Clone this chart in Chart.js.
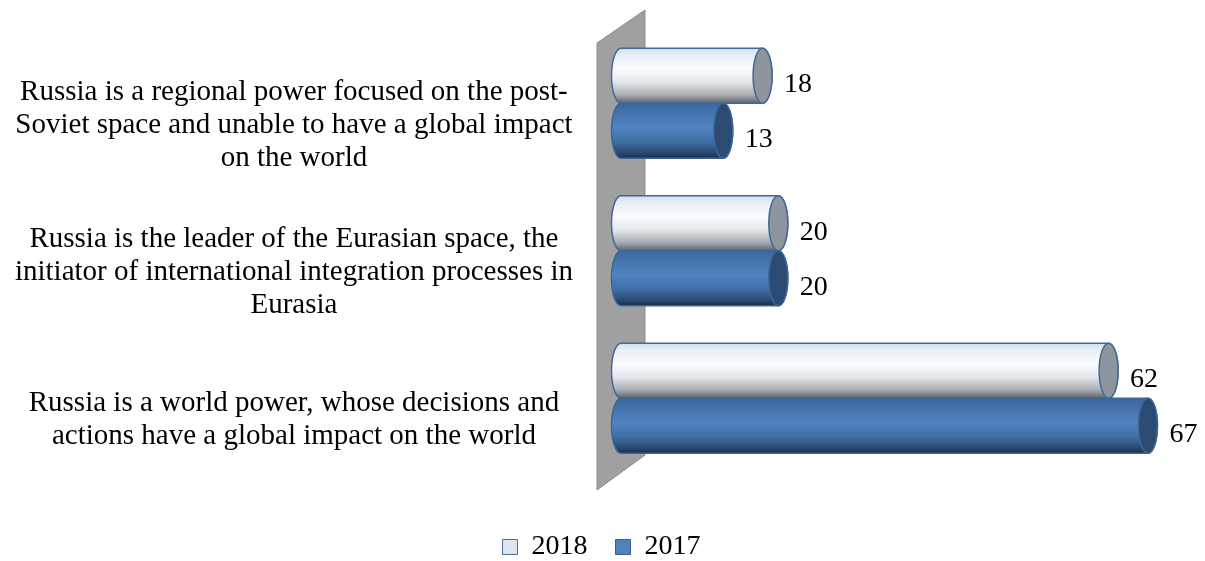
<!DOCTYPE html>
<html>
<head>
<meta charset="utf-8">
<script src="https://cdn.jsdelivr.net/npm/chart.js@4.4.0/dist/chart.umd.min.js"></script>
<style>
  html, body { margin: 0; padding: 0; background: #fff; }
  #wrap { width: 1205px; height: 561px; }
</style>
</head>
<body>
<div id="wrap"><canvas id="opinionChart"></canvas></div>
<script>
const FONT = '"Liberation Serif", "Times New Roman", serif';

const CATEGORIES = [
    ["Russia is a regional power focused on the post-", "Soviet space and unable to have a global impact", "on the world"],
    ["Russia is the leader of the Eurasian space, the", "initiator of international integration processes in", "Eurasia"],
    ["Russia is a world power, whose decisions and", "actions have a global impact on the world"]
];
const SERIES_NAMES = ["2018", "2017"];
const VALUES_2018 = [18, 20, 62];
const VALUES_2017 = [13, 20, 67];

// look of each cylinder: body gradient stops, end cap, outline
const CYLINDER_STYLE = [
    {
        stops: [[0, '#d3dce8'], [0.12, '#e8eef6'], [0.38, '#fbfcfe'], [0.62, '#e2e6eb'], [0.85, '#a9adb3'], [1, '#5e6166']],
        cap: '#8e959e',
        line: '#41699b'
    },
    {
        stops: [[0, '#3a679d'], [0.2, '#4675ae'], [0.45, '#5083c0'], [0.7, '#416fa6'], [0.9, '#2a4a72'], [1, '#1a2c44']],
        cap: '#2c4b73',
        line: '#3b6698'
    }
];

const CAP_RX = 9.5;

// grey back wall standing behind the bars at the zero line
const wallPlugin = {
    id: 'wall',
    beforeDatasetsDraw(chart) {
        const {ctx, chartArea} = chart;
        const x0 = chart.scales.x.getPixelForValue(0);
        ctx.save();
        ctx.beginPath();
        ctx.moveTo(x0 - 24, chartArea.top + 13.5);
        ctx.lineTo(x0 + 24, chartArea.top - 19.5);
        ctx.lineTo(x0 + 24, chartArea.bottom - 17);
        ctx.lineTo(x0 - 24, chartArea.bottom + 18);
        ctx.closePath();
        ctx.fillStyle = '#a0a0a0';
        ctx.fill();
        ctx.strokeStyle = '#8c8c8c';
        ctx.lineWidth = 1;
        ctx.stroke();
        ctx.restore();
    },
    // flat bars are replaced by the cylinders below
    beforeDatasetDraw() {
        return false;
    }
};

const drawCylinder = (ctx, xs, xe, top, bottom, style) => {
    const ry = (bottom - top) / 2;
    const cy = top + ry;

    const grad = ctx.createLinearGradient(0, top, 0, bottom);
    style.stops.forEach(([p, c]) => grad.addColorStop(p, c));

    ctx.beginPath();
    ctx.moveTo(xs, top);
    ctx.lineTo(xe, top);
    ctx.ellipse(xe, cy, CAP_RX, ry, 0, -Math.PI / 2, Math.PI / 2);
    ctx.lineTo(xs, bottom);
    ctx.ellipse(xs, cy, CAP_RX, ry, 0, Math.PI / 2, Math.PI * 1.5);
    ctx.closePath();
    ctx.fillStyle = grad;
    ctx.fill();
    ctx.strokeStyle = style.line;
    ctx.lineWidth = 1.5;
    ctx.stroke();

    ctx.beginPath();
    ctx.ellipse(xe, cy, CAP_RX, ry, 0, 0, Math.PI * 2);
    ctx.fillStyle = style.cap;
    ctx.fill();
    ctx.stroke();
};

const cylinderPlugin = {
    id: 'cylinders',
    afterDatasetsDraw(chart) {
        const {ctx} = chart;
        ctx.save();
        chart.data.datasets.forEach((ds, di) => {
            const meta = chart.getDatasetMeta(di);
            meta.data.forEach((bar, i) => {
                const {x, y, base, height} = bar.getProps(['x', 'y', 'base', 'height'], true);
                drawCylinder(ctx, base, x, y - height / 2, y + height / 2, CYLINDER_STYLE[di]);
            });
        });

        // value labels to the right of each cylinder
        ctx.fillStyle = '#000';
        ctx.font = '28px ' + FONT;
        ctx.textAlign = 'left';
        ctx.textBaseline = 'middle';
        chart.data.datasets.forEach((ds, di) => {
            const meta = chart.getDatasetMeta(di);
            meta.data.forEach((bar, i) => {
                ctx.fillText(String(ds.data[i]), bar.x + CAP_RX + 12, bar.y + 9);
            });
        });
        ctx.restore();
    }
};

const ctx = document.getElementById('opinionChart').getContext('2d');

new Chart(ctx, {
    type: 'bar',
    data: {
        labels: CATEGORIES,
        datasets: [
            {
                label: SERIES_NAMES[0],
                data: VALUES_2018,
                backgroundColor: '#dce6f2',
                borderColor: '#4a6f9c',
                borderWidth: 1
            },
            {
                label: SERIES_NAMES[1],
                data: VALUES_2017,
                backgroundColor: '#4f81bd',
                borderColor: '#3a5f8c',
                borderWidth: 1
            }
        ]
    },
    options: {
        indexAxis: 'y',
        responsive: true,
        maintainAspectRatio: false,
        animation: false,
        layout: {
            padding: {top: 29.5, right: 2, bottom: -10, left: 0}
        },
        datasets: {
            bar: {
                categoryPercentage: 0.746,
                barPercentage: 1.0
            }
        },
        scales: {
            x: {
                min: 0,
                max: 74,
                grid: {display: false},
                border: {display: false},
                ticks: {display: false},
                afterFit: scale => { scale.height = 33; }
            },
            y: {
                grid: {display: false, drawTicks: false},
                border: {display: false},
                ticks: {
                    color: '#000',
                    font: {family: FONT, size: 29, lineHeight: 1.14},
                    padding: 48,
                    crossAlign: 'center',
                    labelOffset: 22
                },
                afterFit: scale => {
                    scale.width = 621;
                    // labels may run past the plot edges, don't shrink the plot for them
                    scale.paddingTop = 0;
                    scale.paddingBottom = 0;
                }
            }
        },
        plugins: {
            legend: {
                position: 'bottom',
                labels: {
                    color: '#000',
                    font: {family: FONT, size: 28},
                    boxWidth: 15,
                    boxHeight: 15,
                    padding: 28
                }
            },
            tooltip: {enabled: false}
        }
    },
    plugins: [wallPlugin, cylinderPlugin]
});
</script>
</body>
</html>
